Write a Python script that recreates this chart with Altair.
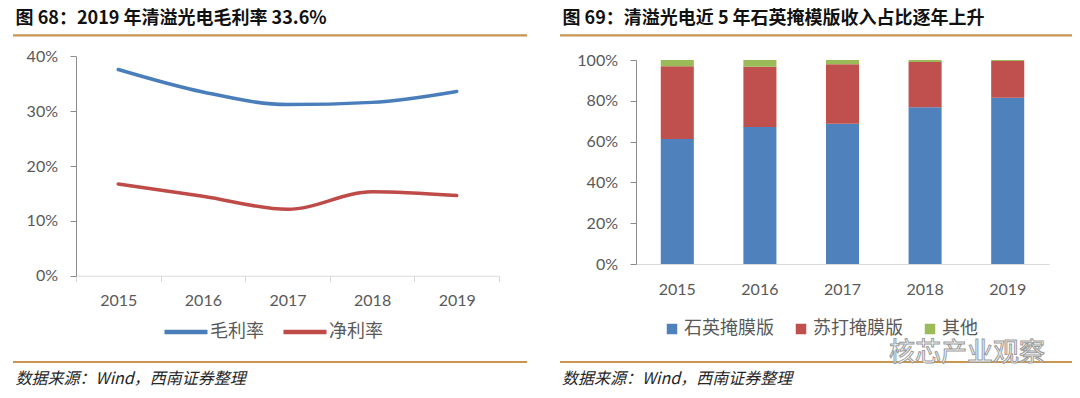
import altair as alt
import pandas as pd

# ---------------- data ----------------
years = ["2015", "2016", "2017", "2018", "2019"]
gross_margin = [37.6, 33.5, 31.2, 31.6, 33.6]   # 毛利率 (%)
net_margin = [16.7, 14.5, 12.1, 15.3, 14.6]     # 净利率 (%)
line_series = ["毛利率", "净利率"]

quartz = [61.3, 67.2, 68.8, 76.8, 81.5]   # 石英掩膜版 (%)
soda = [35.6, 29.5, 29.1, 22.2, 18.0]     # 苏打掩膜版 (%)
other = [3.1, 3.3, 2.1, 1.0, 0.5]         # 其他 (%)
bar_series = ["石英掩膜版", "苏打掩膜版", "其他"]

left_title = "图 68：2019 年清溢光电毛利率 33.6%"
right_title = "图 69：清溢光电近 5 年石英掩模版收入占比逐年上升"
source_text = "数据来源：Wind，西南证券整理"
watermark_text = "核芯产业观察"

line_ticks = [0, 0.1, 0.2, 0.3, 0.4]
bar_ticks = [0, 0.2, 0.4, 0.6, 0.8, 1.0]

# ---------------- tables ----------------
line_rows = []
for s, vals in zip(line_series, [gross_margin, net_margin]):
    for y, v in zip(years, vals):
        line_rows.append({"year": y, "series": s, "value": v / 100})
line_df = pd.DataFrame(line_rows)

bar_rows = []
for i, (s, vals) in enumerate(zip(bar_series, [quartz, soda, other])):
    for y, v in zip(years, vals):
        bar_rows.append({"year": y, "series": s, "value": v / 100, "idx": i})
bar_df = pd.DataFrame(bar_rows)

# ---------------- styles ----------------
CJK = "Noto Sans CJK SC"
NUM = "Lato"
GRAY_TXT = "#595959"
ORANGE = "#C9964F"
LINE_COLORS = ["#4A7EBB", "#BE4B48"]
BAR_COLORS = ["#4F81BD", "#C0504D", "#9BBB59"]

yaxis_common = dict(
    orient="left", format=".0%", title=None, grid=False,
    domainColor="#8c8c8c", tickColor="#8c8c8c", tickSize=6,
    labelPadding=12.5, labelFont=NUM, labelFontSize=16, labelColor=GRAY_TXT,
)
xaxis_common = dict(
    orient="bottom", title=None, grid=False, labelAngle=0,
    domainColor="#d9d9d9", tickColor="#d9d9d9",
    labelFont=NUM, labelFontSize=16, labelColor=GRAY_TXT,
)
legend_common = dict(
    orient="none", direction="horizontal", title=None, padding=0,
    labelFont=CJK, labelFontSize=18, labelColor=GRAY_TXT, labelLimit=300,
)

# ---------------- left: line chart ----------------
line = alt.Chart(line_df).mark_line(
    interpolate="monotone", strokeWidth=3.5, strokeCap="round"
).encode(
    x=alt.X(
        "year:O",
        bandPosition=0.5,
        scale=alt.Scale(type="band", range=[68, 491], paddingInner=0, paddingOuter=0),
        axis=alt.Axis(offset=-114.3, tickBand="extent", tickSize=6, labelPadding=10.5,
                      **xaxis_common),
    ),
    y=alt.Y(
        "value:Q",
        scale=alt.Scale(domain=[0, 0.4], range=[267.7, 48.3], nice=False),
        axis=alt.Axis(offset=-68, values=line_ticks, **yaxis_common),
    ),
    color=alt.Color(
        "series:N",
        sort=line_series,
        scale=alt.Scale(domain=line_series, range=LINE_COLORS),
        legend=alt.Legend(legendX=154, legendY=300, symbolType="stroke",
                          symbolSize=1849, symbolStrokeWidth=4.5, labelOffset=0,
                          columnPadding=10, **legend_common),
    ),
)

# ---------------- right: stacked bar chart ----------------
bar = alt.Chart(bar_df).mark_bar().encode(
    x=alt.X(
        "year:O",
        scale=alt.Scale(type="band", range=[628, 1041], paddingInner=0.6, paddingOuter=0.3),
        axis=alt.Axis(offset=-126, ticks=False, labelPadding=17.5, **xaxis_common),
    ),
    y=alt.Y(
        "value:Q",
        stack="zero",
        scale=alt.Scale(domain=[0, 1], range=[256, 52], nice=False),
        axis=alt.Axis(offset=-628, values=bar_ticks, **yaxis_common),
    ),
    color=alt.Color(
        "series:N",
        sort=bar_series,
        scale=alt.Scale(domain=bar_series, range=BAR_COLORS),
        legend=alt.Legend(legendX=655, legendY=312, symbolType="square",
                          symbolSize=110, symbolStrokeWidth=0, labelOffset=3,
                          columnPadding=18, **legend_common),
    ),
    order=alt.Order("idx:Q", sort="ascending"),
)

# ---------------- decorations ----------------
one = pd.DataFrame({"a": [0]})


def rule(x1, x2, y):
    return alt.Chart(one).mark_rule(color=ORANGE, strokeWidth=2.2).encode(
        x=alt.value(x1), x2=alt.value(x2), y=alt.value(y)
    )


def text(t, x, y, **kw):
    return alt.Chart(pd.DataFrame({"t": [t]})).mark_text(
        align="left", baseline="middle", x=x, y=y, **kw
    ).encode(text="t:N")


title_style = dict(font=CJK, fontSize=18, fontWeight="bold", color="#111111")
source_style = dict(font=CJK, fontSize=16, fontStyle="italic", color="#262626")

deco = [
    rule(5, 519, 27.3), rule(552, 1064, 27.3),
    rule(5, 519, 354), rule(552, 1064, 354),
    text(left_title, 7.6, 11, **title_style),
    text(right_title, 554.5, 11, **title_style),
    text(source_text, 7.6, 371, **source_style),
    text(source_text, 554, 371, **source_style),
    text(watermark_text, 881, 345, font=CJK, fontSize=26, fill="#ffffff",
         stroke="#9a9a9a", strokeWidth=1),
]

chart = alt.layer(line, bar, *deco).resolve_scale(
    x="independent", y="independent", color="independent"
).resolve_axis(
    x="independent", y="independent"
).resolve_legend(
    color="independent"
).properties(
    width=1064, height=382, padding=0,
    autosize=alt.AutoSizeParams(type="none"),
    background="white",
).configure_view(stroke=None)

chart.save("out.html", embed_options={"renderer": "svg", "actions": False})
